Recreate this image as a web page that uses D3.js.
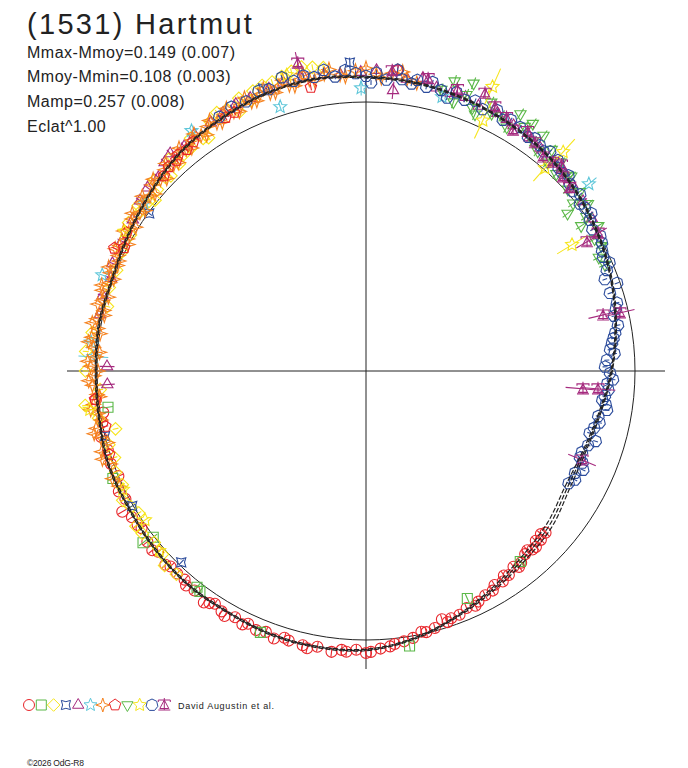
<!DOCTYPE html>
<html><head><meta charset="utf-8">
<script src="https://cdn.jsdelivr.net/npm/d3@7"></script>
<style>body{margin:0;background:#fff}svg{display:block}</style>
</head><body><svg id="c" width="688" height="768"></svg>
<script>
// ---------- texts ----------
const titleText = "(1531) Hartmut";
const infoLines = ["Mmax-Mmoy=0.149 (0.007)", "Mmoy-Mmin=0.108 (0.003)", "Mamp=0.257 (0.008)", "Eclat^1.00"];
const authorText = "David Augustin et al.";
const creditText = "\u00A92026 OdG-R8";

// ---------- fitted light curve (angle in degrees clockwise from top, delta-mag) ----------
const fitAngle = [0,10,20,30,40,50,60,70,80,90,100,110,120,130,140,150,160,170,180,190,200,210,220,230,240,250,260,270,280,290,300,310,320,330,340,350];
const fitMag   = [-0.100,-0.094,-0.082,-0.068,-0.052,-0.028,0.000,0.030,0.062,0.094,0.126,0.146,0.146,0.118,0.097,0.066,0.028,-0.012,-0.040,-0.045,-0.044,-0.036,-0.036,-0.028,-0.020,-0.020,-0.008,-0.004,-0.008,-0.004,-0.020,-0.044,-0.072,-0.088,-0.104,-0.110];
const fitErr   = [0.003,0.003,0.003,0.003,0.003,0.003,0.003,0.003,0.003,0.003,0.004,0.006,0.010,0.012,0.010,0.006,0.003,0.003,0.003,0.003,0.003,0.003,0.003,0.003,0.003,0.003,0.003,0.003,0.003,0.003,0.003,0.003,0.003,0.003,0.003,0.003];

// ---------- sessions: [angle, deltaMag, (err)] ----------
const s1 = [[132,0.110],[133,0.120],[134,0.104],[135,0.116],[136,0.098],[137,0.100],[138,0.112],[139,0.106],[141,0.090],[142,0.082],[143,0.096],[145,0.080],[146,0.090],[147,0.072],[149,0.078],[150,0.062],[152,0.060],[154,0.050],[155,0.040],[157,0.046],[159,0.032],[161,0.030],[162,0.020],[163,0.038],[165,0.012],[167,0.004],[168,0.010],[170,-0.008],[172,-0.016],[174,-0.022],[175,-0.030],[177,-0.036],[179,-0.048],[180,-0.052],[182,-0.040],[184,-0.050],[185,-0.044],[187,-0.056],[190,-0.044],[192,-0.058],[193,-0.050],[196,-0.046],[197,-0.040],[199,-0.056],[201,-0.042],[203,-0.050],[205,-0.040],[206,-0.052],[208,-0.040],[210,-0.056],[211,-0.046],[213,-0.034],[214,-0.044],[215,-0.055],[218,-0.038],[220,-0.044],[221,-0.030],[223,-0.032],[225,-0.030],[226,-0.040],[229,-0.026],[230,-0.040],[232,-0.034],[235,-0.020],[236,-0.026],[238,-0.028],[240,-0.050],[242,-0.014],[244,-0.024],[247,0.000],[250,-0.010],[253,-0.004],[256,-0.016],[259,0.002],[261,0.012],[264,-0.010]];
const s2 = [[141,0.096],[156,0.080],[171,-0.038],[202,-0.052],[217,-0.028],[218,-0.022],[232,-0.004],[232.4,-0.050],[247,-0.024],[262,0.034]];
const s3 = [[344,-0.150],[346,-0.160],[348,-0.168],[350,-0.158],[352,-0.150],[342,-0.140],[340,-0.140],[338,-0.132],[337,-0.100],[335,-0.128],[334,-0.078],[332,-0.110],[330,-0.118],[328,-0.100],[326,-0.050],[325,-0.060],[323,-0.090],[322,-0.058],[320,-0.056],[318,-0.040],[317,-0.082],[315,-0.028],[314,-0.040],[312,-0.064],[311,-0.030],[309,-0.010],[308,-0.026],[306,-0.050],[305,-0.030],[302,-0.044],[300,-0.012],[296,-0.010],[292,0.000],[288,-0.004],[284,0.010],[278,-0.030],[274,-0.048],[270,-0.046],[266,0.010],[263,-0.056],[260,-0.010],[257,0.048],[254,0.006],[251,0.012],[248,-0.004],[245,0.000],[242,-0.026],[240,-0.010],[238,0.004],[236,-0.034],[234,-0.030],[231,-0.014],[228,-0.020],[226,-0.044],[223,-0.036]];
const s4 = [[224,0.012],[240,-0.004],[256,0.000],[306,0.004],[340,-0.128],[357,-0.160,0.02]];
const s5 = [[282,-0.012],[286,-0.020],[290,-0.010],[293,-0.026],[298,-0.030],[303,-0.036],[307,-0.056],[310,-0.065],[313,-0.060],[316,-0.084],[318,-0.095],[321,-0.080],[324,-0.092],[328,-0.096],[331,-0.104],[334,-0.112],[337,-0.110],[341,-0.118],[344,-0.124],[348,-0.128],[352,-0.122],[355,-0.116],[359,-0.120],[2,-0.128],[5,-0.110],[5.5,-0.052,0.035],[8,-0.104],[11,-0.118],[14,-0.092],[17,-0.086],[20,-0.090],[23,-0.076],[27,-0.082],[31,-0.070],[35,-0.064],[38,-0.056],[42,-0.050],[45,-0.044],[48,-0.036],[52,-0.026],[56,-0.014],[267,0.040,0.030],[271,0.040,0.030]];
const s6 = [[290,-0.047],[273,-0.016,0.06],[276,-0.030,0.03],[307,-0.036],[324,-0.112],[342,-0.035],[359,-0.056,0.03],[15.5,-0.062,0.02],[50,-0.088,0.04]];
const s7 = [[245,-0.014],[247,-0.026],[250,-0.012],[251.5,-0.036],[253,-0.030],[254.5,0.004],[256,-0.018],[257,-0.040],[258,-0.028],[259.5,-0.002],[261,-0.010],[262,-0.036],[263,-0.022],[264.5,0.006],[265,-0.004],[267,-0.020],[268,-0.034],[269,-0.012],[270,0.004],[271,-0.026],[272,-0.038],[273,-0.006],[274,0.008],[275,-0.018],[276,-0.040],[277,-0.030],[278,0.002],[279,-0.010],[280,-0.036],[281,-0.022],[282,0.006],[283,0.000],[284,-0.030],[285,-0.016],[286,0.004],[287,-0.028],[288,-0.036],[289,-0.008],[290,0.002],[291,-0.020],[292,-0.034],[293,-0.004],[294,-0.006],[295,-0.018],[296,-0.040],[297,-0.030],[298,-0.002],[299,-0.014],[300,-0.044],[301,-0.026],[302,-0.010],[303,-0.040],[304,-0.052],[305,-0.028],[306,-0.016],[307,-0.046],[308,-0.060],[309,-0.036],[310,-0.026],[311,-0.058],[312,-0.070],[313,-0.048],[314,-0.032],[315,-0.062],[316,-0.078],[317,-0.052],[318,-0.046],[319,-0.074],[320,-0.088],[321,-0.066],[322,-0.056],[323,-0.080],[324,-0.096],[325,-0.074],[326,-0.064],[327,-0.090],[328,-0.106],[329,-0.082],[330,-0.074],[331,-0.096],[332,-0.114],[333,-0.088],[334,-0.080],[335,-0.102],[336,-0.120],[337,-0.094],[338,-0.090],[339,-0.110],[340,-0.126],[341,-0.100],[342,-0.096],[343,-0.116],[344,-0.134],[345,-0.108],[346,-0.100],[347,-0.120],[348,-0.140],[349,-0.112],[350,-0.104],[352,-0.124],[353,-0.140],[355,-0.114],[356,-0.106],[358,-0.126],[0,-0.136],[2,-0.112],[3,-0.098],[5,-0.120],[7,-0.130],[8,-0.104],[10,-0.094]];
const s8 = [[252,-0.004],[258,0.010],[264,-0.014],[296,-0.044],[297,-0.010],[300,-0.030],[314,-0.048],[316,-0.060],[318,-0.058],[319,-0.070],[321,-0.064],[323,-0.072],[331,-0.083],[333,-0.085],[349,-0.080],[6,-0.135,0.02]];
const s9 = [[15,-0.090],[17,-0.137],[18,-0.055],[20,-0.100],[20.5,-0.153],[22,-0.060],[23,-0.040],[25,-0.110],[26,-0.070],[28,-0.080],[30,-0.050],[31,-0.124],[33,-0.090],[34,-0.118],[36,-0.060],[37,-0.104],[38,-0.040],[40,-0.080],[41,-0.030],[43,-0.066],[44,-0.020],[46,-0.050],[46.5,-0.056],[48,-0.010],[50,-0.040],[51,0.010],[52,0.053],[53,-0.036],[55,0.000],[56,0.038],[58,-0.020],[60,0.020],[62,0.010],[64,0.040],[66,0.030]];
const s10 = [[24,-0.169,0.08],[25,-0.030,0.08],[42,-0.103,0.07],[41.4,-0.006,0.07],[58.5,0.110,0.07],[229,-0.020],[236,0.010],[244,-0.006],[262,-0.040],[300,-0.040],[345,-0.150]];
const s11 = [[330,-0.098],[333,-0.110],[336,-0.104],[339,-0.124],[341,-0.116],[344,-0.146],[346,-0.120],[348,-0.132],[350,-0.118],[352,-0.140],[354,-0.108],[356,-0.130],[358,-0.116],[0,-0.104],[1,-0.078],[2,-0.118],[4,-0.092],[6,-0.136],[7,-0.100],[9,-0.088],[10,-0.106],[12,-0.086],[13,-0.110],[15,-0.087],[16.5,-0.064],[18,-0.096],[20,-0.078],[22,-0.090],[24,-0.070],[26.7,-0.092],[28.6,-0.068],[30,-0.084],[32.3,-0.078],[34.7,-0.063],[36,-0.074],[37.6,-0.064],[39,-0.054],[40,-0.070],[42.3,-0.064],[43.5,-0.044],[44.7,-0.039],[46,-0.050],[47.5,-0.030],[49,-0.019],[50.5,-0.034],[52,-0.010],[53.3,-0.016],[55,-0.024],[56,-0.004],[58,0.008],[60,-0.006],[61.5,0.002],[63,0.016],[64.3,0.024],[66,0.010],[67.3,0.032],[69,0.053],[70.7,0.012],[72.3,0.052],[74.8,0.036],[76,0.046],[77.5,0.060],[79.7,0.052],[81.3,0.068],[82.5,0.078],[83.5,0.086],[85,0.096],[86,0.080],[87.4,0.112],[89,0.120],[90.5,0.100],[92,0.088],[93,0.110],[94.5,0.104],[96,0.116],[97,0.124],[98,0.108],[99.2,0.100],[101,0.130],[102.5,0.120],[104,0.136],[105.5,0.148],[107,0.116],[108.5,0.140],[110.6,0.154],[112,0.153],[113,0.136],[114.5,0.122],[116,0.146],[117.5,0.134],[119,0.150]];
const s12 = [[347.5,-0.186,0.045],[5,-0.130],[12,-0.120],[18,-0.108],[23.2,-0.133],[26,-0.100],[29,-0.084],[31.4,-0.053],[34,-0.080],[36.5,-0.060],[39.6,-0.035],[41.8,-0.044],[43.5,-0.060],[45.4,-0.030],[48,-0.020],[59.3,-0.004,0.04],[59.7,0.052,0.05],[76.7,0.102,0.06],[77.1,0.034,0.06],[94.4,0.146,0.07],[94.7,0.206,0.07],[112.4,0.142,0.06]];

const sessions = [s1,s2,s3,s4,s5,s6,s7,s8,s9,s10,s11,s12];
const sessionColors = ["#e8262b","#5bb848","#f6e51c","#2c4c9c","#a52a7e","#5dc6d9","#f5821f","#e8262b","#5bb848","#f6e51c","#2c4c9c","#a52a7e"];
const sessionShapes = ["circle","square","diamond","cstar","triangle","star5","star4","pentagon","trianglev","star5y","heptagon","tripod"];
const sessionErr = [0.02,0.02,0.012,0.015,0.02,0.015,0.012,0.012,0.025,0.02,0.01,0.02];

// ---------- geometry ----------
const cx = 366, cy = 371;
const svg = d3.select("#c");
const rScale = d3.scaleLinear().domain([0, 0.1]).range([269, 244.1]);   // mean mag on the reference circle
const aScale = d3.scaleLinear().domain([0, 360]).range([0, 2 * Math.PI]);
const ink = "#222";

// symbol helpers
function poly(ctx, pts) { ctx.moveTo(pts[0][0], pts[0][1]); for (let i = 1; i < pts.length; i++) ctx.lineTo(pts[i][0], pts[i][1]); ctx.closePath(); }
function regular(n, R, rot) { return d3.range(n).map(i => { const a = rot + i * 2 * Math.PI / n; return [R * Math.sin(a), -R * Math.cos(a)]; }); }
function star(n, R, r, rot) { return d3.range(2 * n).map(i => { const a = rot + i * Math.PI / n; const rr = i % 2 ? r : R; return [rr * Math.sin(a), -rr * Math.cos(a)]; }); }
const shapeDraw = {
  circle: ctx => { ctx.moveTo(5.5, 0); ctx.arc(0, 0, 5.5, 0, 2 * Math.PI); },
  square: ctx => { ctx.rect(-5, -5, 10, 10); },
  diamond: ctx => poly(ctx, regular(4, 6.3, 0)),
  cstar: ctx => poly(ctx, star(4, 6.5, 3.3, Math.PI / 4)),
  triangle: ctx => poly(ctx, regular(3, 6.5, 0)),
  star5: ctx => poly(ctx, star(5, 6.8, 3.0, 0)),
  star4: ctx => poly(ctx, star(4, 7, 2.4, 0)),
  pentagon: ctx => poly(ctx, regular(5, 6, 0)),
  trianglev: ctx => poly(ctx, regular(3, 6.5, Math.PI)),
  star5y: ctx => poly(ctx, star(5, 6.8, 3.3, 0)),
  heptagon: ctx => poly(ctx, regular(7, 6, 0)),
  tripod: ctx => {
    ctx.moveTo(-6, -3); ctx.lineTo(-6, -5); ctx.lineTo(6, -5); ctx.lineTo(6, -3);
    ctx.moveTo(0, -5); ctx.lineTo(-4.5, 3.5); ctx.lineTo(4.5, 3.5); ctx.closePath();
    ctx.moveTo(0, -7); ctx.lineTo(0, 5);
    ctx.moveTo(-6, 5); ctx.lineTo(6, 5);
  }
};
const symbolFor = name => d3.symbol().type({ draw: (ctx) => shapeDraw[name](ctx) });

// ---------- reference circle & axes ----------
svg.append("circle").attr("cx", cx).attr("cy", cy).attr("r", rScale(0))
  .attr("fill", "none").attr("stroke", ink).attr("stroke-width", 1);
svg.append("line").attr("x1", cx - 299).attr("x2", cx + 299).attr("y1", cy).attr("y2", cy).attr("stroke", ink).attr("stroke-width", 1);
svg.append("line").attr("x1", cx).attr("x2", cx).attr("y1", cy - 298).attr("y2", cy + 298).attr("stroke", ink).attr("stroke-width", 1);

// ---------- points ----------
const plot = svg.append("g").attr("transform", `translate(${cx},${cy})`);
const pos = (ang, m) => { const a = aScale(ang), r = rScale(m); return [r * Math.sin(a), -r * Math.cos(a)]; };
sessions.forEach((data, si) => {
  const g = plot.append("g").attr("stroke", sessionColors[si]).attr("fill", "none").attr("stroke-width", 1.1);
  const sym = symbolFor(sessionShapes[si]);
  data.forEach(d => {
    const err = d.length > 2 ? d[2] : sessionErr[si];
    const p1 = pos(d[0], d[1] - err), p2 = pos(d[0], d[1] + err), p = pos(d[0], d[1]);
    g.append("line").attr("x1", p1[0]).attr("y1", p1[1]).attr("x2", p2[0]).attr("y2", p2[1]);
    g.append("path").attr("d", sym()).attr("transform", `translate(${p[0]},${p[1]})`);
  });
});

// ---------- fit curves ----------
const fitLine = d3.lineRadial().angle(d => aScale(d[0])).radius(d => rScale(d[1])).curve(d3.curveCardinalClosed.tension(0));
[0, 1, -1].forEach(k => {
  const pts = fitAngle.map((a, i) => [a, fitMag[i] + k * fitErr[i]]);
  plot.append("path").attr("d", fitLine(pts)).attr("fill", "none").attr("stroke", ink)
    .attr("stroke-width", 1.2).attr("stroke-dasharray", "5,2");
});

// ---------- texts ----------
svg.append("text").attr("x", 27).attr("y", 34).text(titleText)
  .attr("font-family", "Liberation Sans, Arial, sans-serif").attr("font-size", 29).attr("letter-spacing", 2.3).attr("fill", ink);
infoLines.forEach((t, i) => {
  svg.append("text").attr("x", 27).attr("y", 57.5 + i * 24.7).text(t)
    .attr("font-family", "Liberation Sans, Arial, sans-serif").attr("font-size", 16).attr("letter-spacing", 0.5).attr("fill", ink);
});

// legend
const leg = svg.append("g");
sessionShapes.forEach((s, i) => {
  leg.append("path").attr("d", symbolFor(s)()).attr("transform", `translate(${29 + i * 12.3},705)`)
    .attr("fill", "none").attr("stroke", sessionColors[i]).attr("stroke-width", 1);
});
leg.append("text").attr("x", 178).attr("y", 709).text(authorText)
  .attr("font-family", "Liberation Sans, Arial, sans-serif").attr("font-size", 9).attr("letter-spacing", 0.7).attr("fill", ink);
svg.append("text").attr("x", 27).attr("y", 766).text(creditText)
  .attr("font-family", "Liberation Sans, Arial, sans-serif").attr("font-size", 8.5).attr("letter-spacing", -0.2).attr("fill", ink);
</script></body></html>
